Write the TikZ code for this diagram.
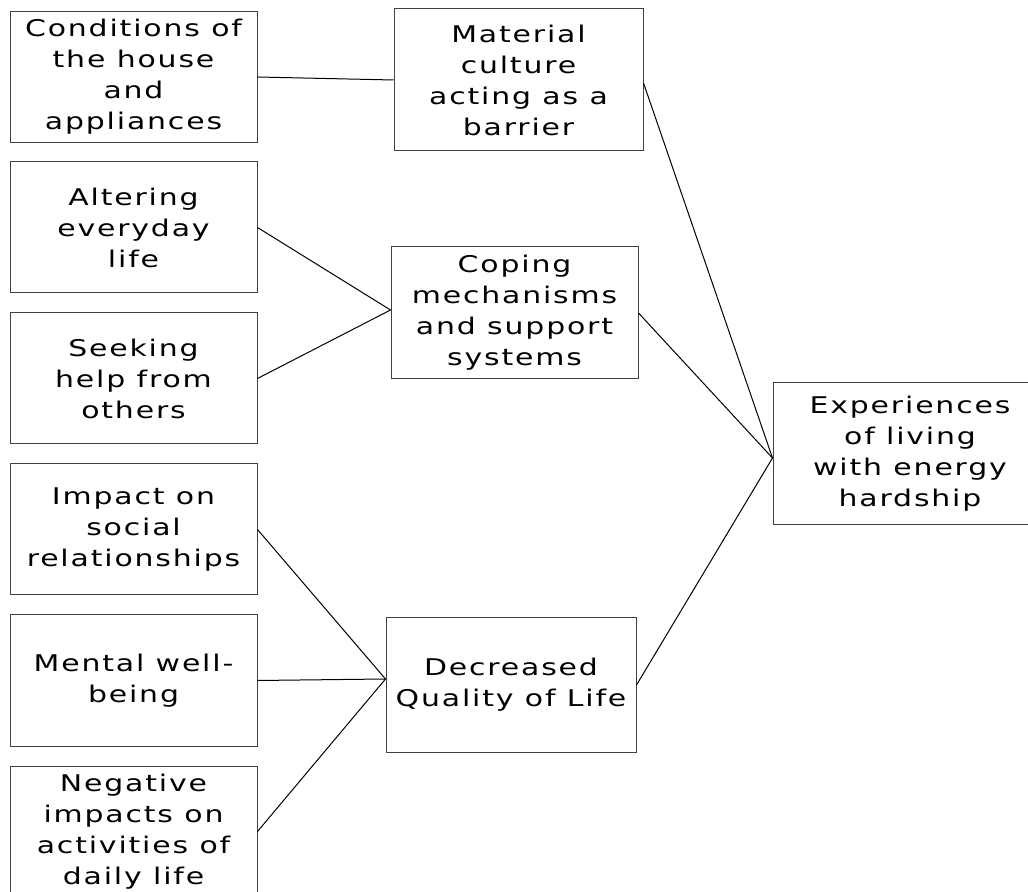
\documentclass[tikz,border=0pt]{standalone}
\usepackage{fontspec}
\setmainfont[FakeStretch=1.3, LetterSpace=8]{DejaVu Sans}
\usetikzlibrary{positioning}

\tikzset{
  themebox/.style={draw=black!75, line width=0.5pt, align=center, inner sep=0pt,
    font=\fontsize{11.5}{15.5}\selectfont},
  subtheme/.style={themebox, minimum width=123.5pt, minimum height=65.5pt},
  link/.style={line width=0.5pt, black}
}

\begin{document}
\begin{tikzpicture}[x=0.5pt, y=-0.5pt]

    \useasboundingbox (0,0) rectangle (1028,892);
    \clip (0,0) rectangle (1028,892);

    \node[subtheme] at (133.5,77) (cond) {Conditions of\\the house\\and\\appliances};
    \node[subtheme] at (133.5,227.5) (alter) {Altering\\everyday\\life};
    \node[subtheme] at (133.5,378.5) (seek) {Seeking\\help from\\others};
    \node[subtheme] at (133.5,529.5) (social) {Impact on\\social\\relationships};
    \node[subtheme] at (133.5,680.5) (mental) {Mental well-\\being};
    \node[subtheme] at (133.5,831.5) (daily) {Negative\\impacts on\\activities of\\daily life};

    \node[themebox, minimum width=124.5pt, minimum height=71pt] at (518.5,80) (material) {Material\\culture\\acting as a\\barrier};
    \node[themebox, minimum width=123.5pt, minimum height=66pt] at (514.5,313) (coping) {Coping\\mechanisms\\and support\\systems};
    \node[themebox, minimum width=125pt, minimum height=67pt] at (511,685) (quality) {Decreased\\Quality of Life};

    \node[themebox, minimum width=137pt, minimum height=71pt] at (910,454) (hardship) {Experiences\\of living\\with energy\\hardship};

    \coordinate (copingin) at ([yshift=1.5pt]coping.west);
    \coordinate (qualityin) at ([yshift=3pt]quality.west);
    \coordinate (materialout) at ([yshift=-1.5pt]material.east);
    \coordinate (hardshipin) at ([yshift=-2pt]hardship.west);

    \draw[link] (cond.east) -- (material.west);
    \draw[link] (alter.east) -- (copingin);
    \draw[link] (seek.east) -- (copingin);
    \draw[link] (social.east) -- (qualityin);
    \draw[link] (mental.east) -- (qualityin);
    \draw[link] (daily.east) -- (qualityin);
    \draw[link] (materialout) -- (hardshipin);
    \draw[link] (coping.east) -- (hardshipin);
    \draw[link] (quality.east) -- (hardshipin);

\end{tikzpicture}
\end{document}
